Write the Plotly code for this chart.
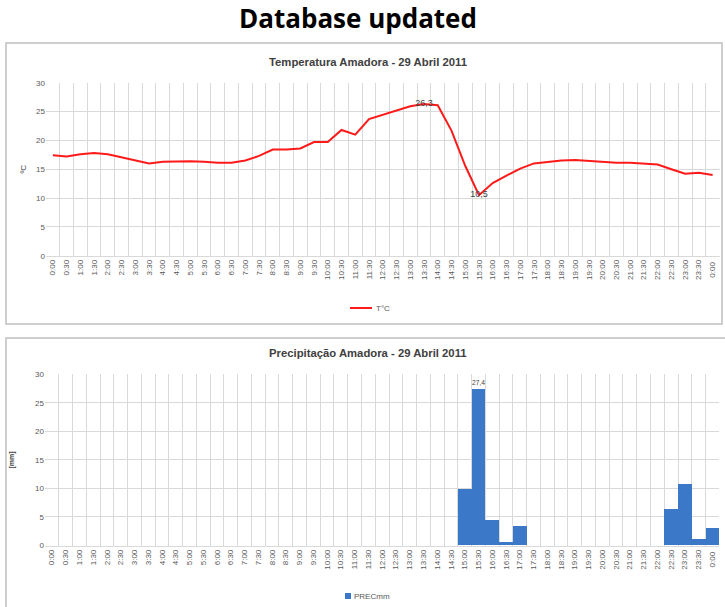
import plotly.graph_objects as go

times = ["0:00","0:30","1:00","1:30","2:00","2:30","3:00","3:30","4:00","4:30",
         "5:00","5:30","6:00","6:30","7:00","7:30","8:00","8:30","9:00","9:30",
         "10:00","10:30","11:00","11:30","12:00","12:30","13:00","13:30","14:00","14:30",
         "15:00","15:30","16:00","16:30","17:00","17:30","18:00","18:30","19:00","19:30",
         "20:00","20:30","21:00","21:30","22:00","22:30","23:00","23:30","0:00 "]

temp_c = [17.4, 17.2, 17.6, 17.8, 17.6, 17.1, 16.6, 16.0, 16.3, 16.4,
          16.4, 16.3, 16.1, 16.1, 16.5, 17.3, 18.4, 18.4, 18.6, 19.7,
          19.7, 21.8, 21.0, 23.7, 24.4, 25.1, 25.9, 26.3, 26.1, 21.7,
          15.6, 10.5, 12.6, 13.9, 15.1, 16.0, 16.25, 16.5, 16.6, 16.4,
          16.2, 16.1, 16.1, 16.0, 15.8, 15.0, 14.2, 14.4, 14.0]

temp_labels = [""] * 27 + ["26,3"] + [""] * 3 + ["10,5"] + [""] * 17

prec_mm = [0, 0, 0, 0, 0, 0, 0, 0, 0, 0,
           0, 0, 0, 0, 0, 0, 0, 0, 0, 0,
           0, 0, 0, 0, 0, 0, 0, 0, 0, 0,
           9.8, 27.4, 4.4, 0.6, 3.4, 0, 0, 0, 0, 0,
           0, 0, 0, 0, 0, 6.4, 10.8, 1.0, 3.1]

prec_labels = [""] * 31 + ["27,4"] + [""] * 17

W, H = 725, 607
def px(x): return x / W
def py(y): return 1 - y / H

GRID = "#d9d9d9"
TXT = "#595959"
FONT = "Liberation Sans"
RED = "#ff1a1a"
BLUE = "#3b78c8"

fig = go.Figure()
fig.add_trace(go.Scatter(
    x=times, y=temp_c, mode="lines+text", name="T\u00b0C",
    line=dict(color=RED, width=2),
    text=temp_labels, textposition="middle center",
    textfont=dict(size=9, color="#404040", family=FONT),
    xaxis="x", yaxis="y", showlegend=False, cliponaxis=False))
fig.add_trace(go.Bar(
    x=times, y=prec_mm, name="PRECmm",
    marker=dict(color=BLUE, line=dict(color="#2a5c9f", width=0)),
    text=prec_labels, textposition="outside",
    textfont=dict(size=9, color="#404040", family=FONT),
    xaxis="x2", yaxis="y2", showlegend=False, cliponaxis=False))

xcommon = dict(type="category", tickson="boundaries", showgrid=True, gridcolor=GRID,
               gridwidth=1, tickangle=-90, tickfont=dict(size=8, color=TXT, family=FONT),
               showline=True, linecolor=GRID, ticks="", fixedrange=True, automargin=False,
               range=[-0.5, len(times) - 0.5])
ycommon = dict(range=[0, 30], dtick=5, showgrid=True, gridcolor=GRID, gridwidth=1,
               tickfont=dict(size=8, color=TXT, family=FONT), zeroline=False,
               ticks="", showline=False, fixedrange=True, automargin=False)

fig.update_layout(
    width=W, height=H, margin=dict(l=0, r=0, t=0, b=0, autoexpand=False),
    paper_bgcolor="white", plot_bgcolor="white",
    bargap=0, showlegend=False,
    xaxis=dict(xcommon, domain=[px(46), px(719.5)], anchor="y"),
    yaxis=dict(ycommon, domain=[py(255.7), py(82.7)], anchor="x",
               title=dict(text="\u00baC", font=dict(size=8, color="#404040", family=FONT), standoff=8)),
    xaxis2=dict(xcommon, domain=[px(45), px(719.3)], anchor="y2"),
    yaxis2=dict(ycommon, domain=[py(545.5), py(374.3)], anchor="x2",
                title=dict(text="<b>[mm]</b>", font=dict(size=7, color="#404040", family=FONT), standoff=19)),
    shapes=[
        dict(type="rect", xref="paper", yref="paper", x0=px(6), x1=px(722), y0=py(324), y1=py(43),
             line=dict(color="#bfbfbf", width=1.5), layer="below"),
        dict(type="rect", xref="paper", yref="paper", x0=px(6), x1=px(740), y0=py(640), y1=py(338),
             line=dict(color="#bfbfbf", width=1.5), layer="below"),
        # legend keys
        dict(type="line", xref="paper", yref="paper", x0=px(350), x1=px(372), y0=py(308), y1=py(308),
             line=dict(color=RED, width=2)),
        dict(type="rect", xref="paper", yref="paper", x0=px(345), x1=px(351), y0=py(599), y1=py(593),
             line=dict(width=0), fillcolor=BLUE),
    ],
    annotations=[
        dict(text="<b>Database updated</b>", xref="paper", yref="paper", x=px(358), y=py(18),
             showarrow=False, xanchor="center", yanchor="middle",
             font=dict(size=26, color="black", family="Open Sans")),
        dict(text="<b>Temperatura Amadora - 29 Abril 2011</b>", xref="paper", yref="paper",
             x=px(368), y=py(62), showarrow=False, xanchor="center", yanchor="middle",
             font=dict(size=11.3, color="#404040", family=FONT)),
        dict(text="<b>Precipita\u00e7\u00e3o Amadora - 29 Abril 2011</b>", xref="paper", yref="paper",
             x=px(368), y=py(353), showarrow=False, xanchor="center", yanchor="middle",
             font=dict(size=11.3, color="#404040", family=FONT)),
        dict(text="T\u00b0C", xref="paper", yref="paper", x=px(374), y=py(308),
             showarrow=False, xanchor="left", yanchor="middle",
             font=dict(size=8, color=TXT, family=FONT)),
        dict(text="PRECmm", xref="paper", yref="paper", x=px(352), y=py(596),
             showarrow=False, xanchor="left", yanchor="middle",
             font=dict(size=8, color=TXT, family=FONT)),
    ],
)

fig.write_html("out.html", config=dict(displayModeBar=False),
               post_script="document.body.style.margin='0';document.body.style.overflow='hidden';")
